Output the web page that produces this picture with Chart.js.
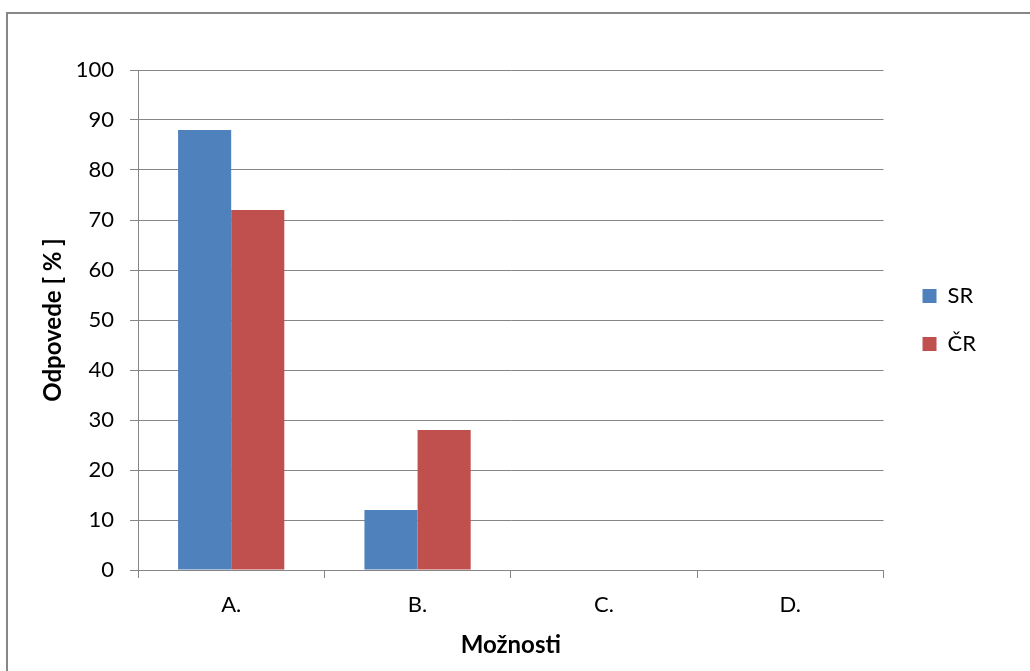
<!DOCTYPE html>
<html>
<head>
<meta charset="utf-8">
<script src="https://cdn.jsdelivr.net/npm/chart.js@4"></script>
<style>
body { margin: 0; background: #fff; }
#wrap { position: relative; width: 1030px; height: 671px; overflow: hidden; }
#frame { position: absolute; left: 6px; top: 12px; width: 1100px; height: 700px; border-left: 2px solid #878787; border-top: 2px solid #878787; }
canvas { position: absolute; left: 0; top: 0; }
</style>
</head>
<body>
<div id="wrap">
<div id="frame"></div>
<canvas id="myChart" width="1030" height="671"></canvas>
</div>
<script>
// data
var labels = ["A.", "B.", "C.", "D."]
var sr = [88, 12, 0, 0]
var cr = [72, 28, 0, 0]
var yTicks = [0, 10, 20, 30, 40, 50, 60, 70, 80, 90, 100]

var fam = "Lato, 'Liberation Sans', sans-serif"
var gridCol = "#868686"

const ctx = document.getElementById('myChart');
new Chart(ctx, {
  type: 'bar',
  data: {
    labels: labels,
    datasets: [
      { label: 'SR', data: sr, backgroundColor: '#4F81BD', borderWidth: 0 },
      { label: 'ČR', data: cr, backgroundColor: '#C0504D', borderWidth: 0 }
    ]
  },
  options: {
    responsive: false,
    animation: false,
    categoryPercentage: 0.57,
    barPercentage: 1,
    layout: { padding: { left: 30, top: 70, right: 44, bottom: 0 } },
    plugins: {
      tooltip: { enabled: false },
      legend: {
        position: 'right',
        fullSize: false,
        labels: {
          boxWidth: 14, boxHeight: 14, padding: 26,
          color: '#000',
          font: { family: fam, size: 22 }
        }
      }
    },
    scales: {
      x: {
        grid: { display: true, drawOnChartArea: false, offset: true, tickLength: 8, color: gridCol },
        border: { color: gridCol },
        ticks: { color: '#000', padding: 14, font: { family: fam, size: 22 } },
        title: { display: true, text: 'Možnosti', color: '#000', padding: { top: 4, bottom: 11 }, font: { family: fam, size: 24, weight: 'bold' } },
        afterFit: function (s) { s.height = 101 }
      },
      y: {
        min: 0, max: 100,
        afterBuildTicks: function (s) { s.ticks = yTicks.map(function (v) { return { value: v } }) },
        grid: { color: gridCol, tickLength: 8 },
        border: { color: gridCol },
        ticks: { color: '#000', padding: 16, font: { family: fam, size: 22 } },
        title: { display: true, text: 'Odpovede [ % ]', color: '#000', padding: { top: 9, bottom: 4 }, font: { family: fam, size: 24, weight: 'bold' } },
        afterFit: function (s) { s.width = 108 }
      },
      gap: {
        position: 'right',
        display: true,
        grid: { display: false },
        border: { display: false },
        ticks: { display: false },
        afterFit: function (s) { s.width = 13 }
      }
    }
  }
});
</script>
</body>
</html>
